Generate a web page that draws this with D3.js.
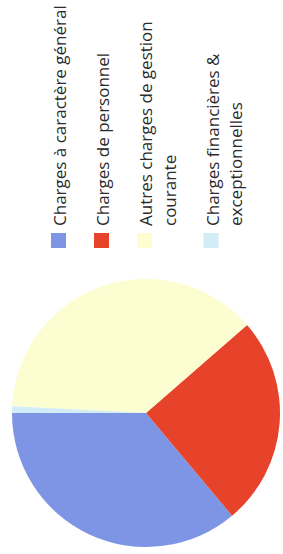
<!DOCTYPE html>
<html lang="fr">
    <head>
        <meta charset="UTF-8" />
        <title>Répartition des charges</title>
        <script src="https://cdn.jsdelivr.net/npm/d3@7/dist/d3.min.js"></script>
        <style>
            body {
                margin: 0;
                padding: 0;
                background-color: #fff;
            }
            text {
                font-family: 'Open Sans', 'Noto Sans', sans-serif;
                font-size: 17px;
                fill: #2b2b2b;
            }
        </style>
    </head>
    <body>
        <svg width="283" height="554"></svg>
        <script>
            // data
            var categories = [
                'Charges à caractère général',
                'Charges de personnel',
                'Autres charges de gestion courante',
                'Charges financières & exceptionnelles'
            ];
            var labelLines = [
                ['Charges à caractère général'],
                ['Charges de personnel'],
                ['Autres charges de gestion', 'courante'],
                ['Charges financières &', 'exceptionnelles']
            ];
            var values = [36.1, 25.3, 37.8, 0.8];
            var colors = ['#7e95e5', '#e7432b', '#fdfdd2', '#d3edf7'];

            var svg = d3.select('svg');

            var color = d3.scaleOrdinal().domain(categories).range(colors);

            // the page is printed turned a quarter: the pie starts on the left
            // and runs counter-clockwise
            var pie = d3
                .pie()
                .sort(null)
                .value(d => d.value)
                .startAngle(Math.PI * 1.5)
                .endAngle(-Math.PI * 0.5);

            var arc = d3.arc().innerRadius(0).outerRadius(134);

            var data = categories.map((c, i) => ({ name: c, value: values[i] }));

            svg.append('g')
                .attr('transform', 'translate(146,413)')
                .selectAll('path')
                .data(pie(data))
                .join('path')
                .attr('d', arc)
                .attr('fill', d => color(d.data.name));

            // legend, text read bottom to top
            var lineH = 23.5,
                itemGap = 43,
                x = 66;

            var legend = svg.append('g');

            categories.forEach(function(c, i) {
                var g = legend.append('g');
                g.append('rect')
                    .attr('x', x - 15)
                    .attr('y', 233)
                    .attr('width', 15)
                    .attr('height', 15)
                    .attr('fill', color(c));

                labelLines[i].forEach(function(line, j) {
                    g.append('text')
                        .attr('transform', 'translate(' + (x + j * lineH) + ',226) rotate(-90)')
                        .text(line);
                });

                x += (labelLines[i].length - 1) * lineH + itemGap;
            });
        </script>
    </body>
</html>
